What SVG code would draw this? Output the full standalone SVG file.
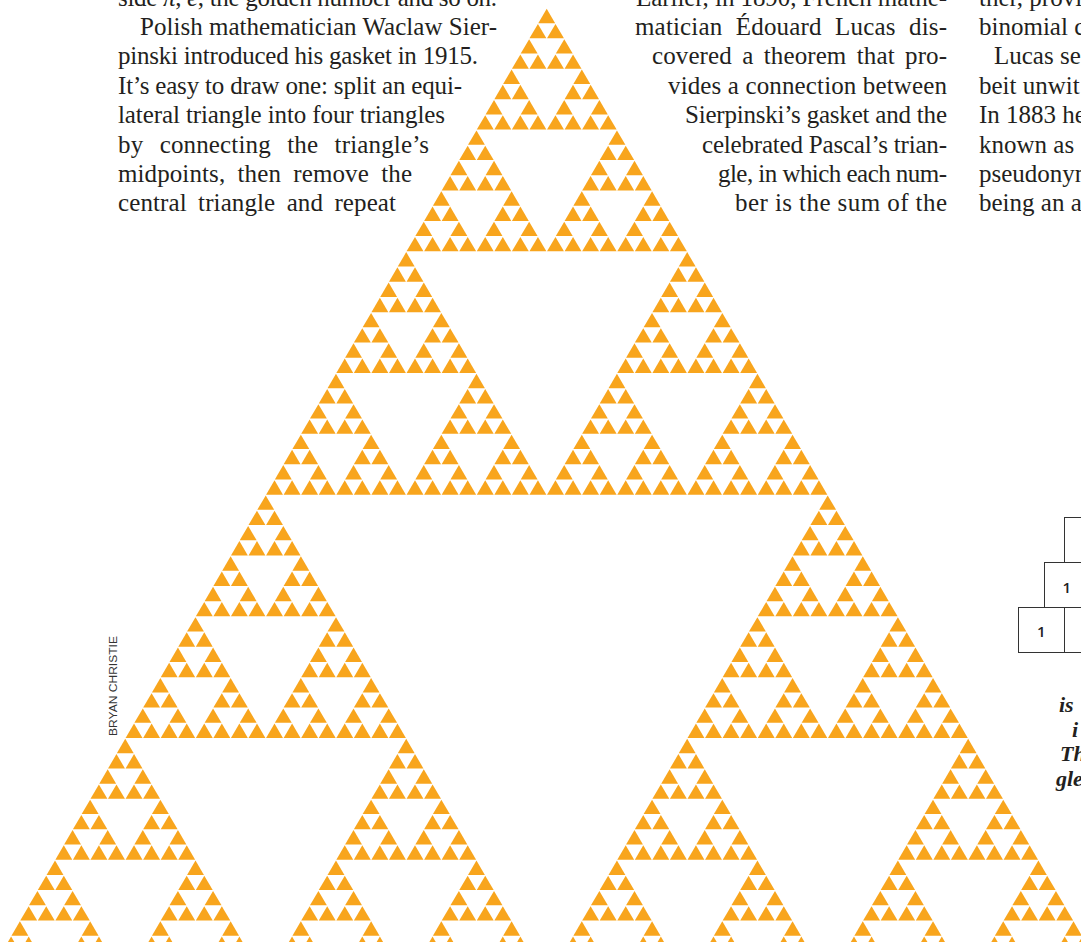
<svg xmlns="http://www.w3.org/2000/svg" width="1081" height="942" viewBox="0 0 1081 942">
<style>
.body{font-family:"Liberation Serif","Times New Roman",serif;font-size:25px;fill:#231f20}
.cap{font-family:"Liberation Serif","Times New Roman",serif;font-size:22px;font-style:italic;font-weight:bold;fill:#231f20}
.num{font-family:"Open Sans","Liberation Sans",Arial,sans-serif;font-size:15px;font-weight:600;fill:#222;text-anchor:middle}
.box{fill:none;stroke:#333;stroke-width:1}
.credit{font-family:"Liberation Sans",Arial,sans-serif;font-size:10px;fill:#333}
.tri{fill:#F8A51D}
</style>
<defs>
<polygon id="t0" class="tri" points="0,0.45 8.45,14.85 -8.45,14.85"/>
<g id="g1"><use href="#t0"/><use href="#t0" x="-8.78" y="15.21"/><use href="#t0" x="8.78" y="15.21"/></g>
<g id="g2"><use href="#g1"/><use href="#g1" x="-17.56" y="30.42"/><use href="#g1" x="17.56" y="30.42"/></g>
<g id="g3"><use href="#g2"/><use href="#g2" x="-35.12" y="60.84"/><use href="#g2" x="35.12" y="60.84"/></g>
<g id="g4"><use href="#g3"/><use href="#g3" x="-70.24" y="121.68"/><use href="#g3" x="70.24" y="121.68"/></g>
<g id="g5"><use href="#g4"/><use href="#g4" x="-140.48" y="243.36"/><use href="#g4" x="140.48" y="243.36"/></g>
<g id="g6"><use href="#g5"/><use href="#g5" x="-280.96" y="486.72"/><use href="#g5" x="280.96" y="486.72"/></g>
</defs>
<rect width="1081" height="942" fill="#ffffff"/>
<g id="gasket"><use href="#g6" x="546.7" y="8.3"/></g>

<g id="left-column" class="body">
<text x="118" y="5.5" textLength="379" lengthAdjust="spacing">side <tspan font-style="italic">π</tspan>, <tspan font-style="italic">e</tspan>, the golden number and so on.</text>
<text x="140" y="34.9" textLength="357" lengthAdjust="spacing">Polish mathematician Waclaw Sier-</text>
<text x="118" y="64.3" textLength="360" lengthAdjust="spacing">pinski introduced his gasket in 1915.</text>
<text x="118" y="93.7" textLength="344" lengthAdjust="spacing">It’s easy to draw one: split an equi-</text>
<text x="118" y="123.1" textLength="327" lengthAdjust="spacing">lateral triangle into four triangles</text>
<text x="118" y="152.5" word-spacing="10" textLength="311" lengthAdjust="spacing">by connecting the triangle’s</text>
<text x="118" y="181.9" word-spacing="6" textLength="294" lengthAdjust="spacing">midpoints, then remove the</text>
<text x="118" y="211.3" word-spacing="5" textLength="278" lengthAdjust="spacing">central triangle and repeat</text>
</g>

<g id="middle-column" class="body">
<text x="636" y="5.5" textLength="311" lengthAdjust="spacing">Earlier, in 1890, French mathe-</text>
<text x="635" y="34.9" word-spacing="7" textLength="312" lengthAdjust="spacing">matician Édouard Lucas dis-</text>
<text x="652" y="64.3" word-spacing="4" textLength="295" lengthAdjust="spacing">covered a theorem that pro-</text>
<text x="668" y="93.7" textLength="279" lengthAdjust="spacing">vides a connection between</text>
<text x="685" y="123.1" textLength="262" lengthAdjust="spacing">Sierpinski’s gasket and the</text>
<text x="702" y="152.5" textLength="245" lengthAdjust="spacing">celebrated Pascal’s trian-</text>
<text x="718" y="181.9" textLength="229" lengthAdjust="spacing">gle, in which each num-</text>
<text x="735" y="211.3" textLength="212" lengthAdjust="spacing">ber is the sum of the</text>
</g>

<g id="right-column" class="body">
<text x="979" y="5.5">ther, provi</text>
<text x="979" y="34.9">binomial c</text>
<text x="994" y="64.3">Lucas se</text>
<text x="979" y="93.7">beit unwit</text>
<text x="979" y="123.1">In 1883 he</text>
<text x="979" y="152.5">known as</text>
<text x="979" y="181.9">pseudonyn</text>
<text x="979" y="211.3">being an a</text>
</g>

<g id="pascal">
<rect class="box" x="1064.5" y="517.5" width="45" height="45"/>
<rect class="box" x="1044.5" y="562.5" width="45" height="45"/>
<rect class="box" x="1018.5" y="607.5" width="46" height="45"/>
<rect class="box" x="1064.5" y="607.5" width="45" height="45"/>
<text class="num" x="1066.7" y="592.5">1</text>
<text class="num" x="1041.2" y="636.5">1</text>
</g>

<g id="caption" class="cap">
<text x="1059" y="712">is</text>
<text x="1072" y="737">i</text>
<text x="1060" y="761">Th</text>
<text x="1056" y="786">gle</text>
</g>

<text class="credit" transform="translate(117,686) rotate(-90)" text-anchor="middle" textLength="100" lengthAdjust="spacingAndGlyphs">BRYAN CHRISTIE</text>
</svg>
